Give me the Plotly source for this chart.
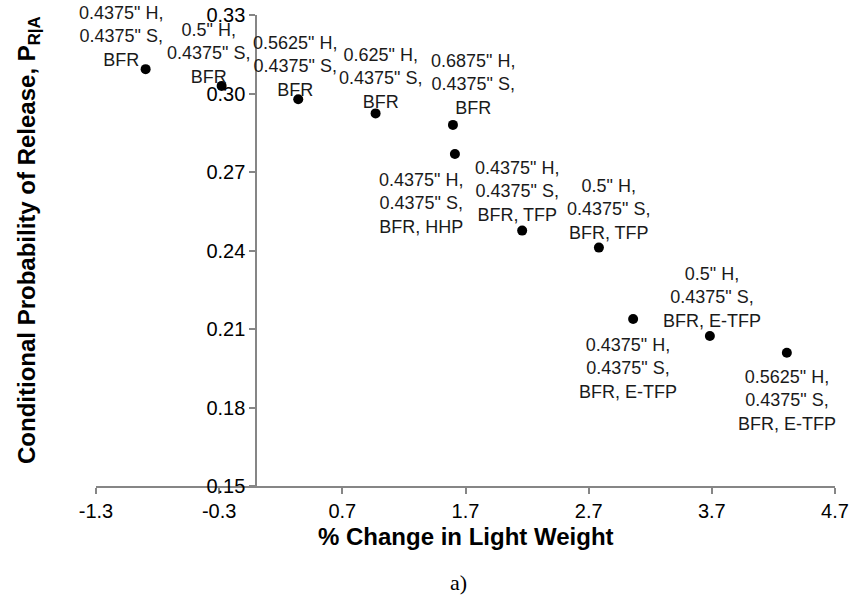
import plotly.graph_objects as go

# ---- data ----
pct_change = [-0.897, -0.280, 0.342, 0.970, 1.598, 1.614, 2.160, 2.783, 3.061, 3.684, 4.309]
p_release = [0.3093, 0.3029, 0.2978, 0.2924, 0.2880, 0.2769, 0.2476, 0.2411, 0.2138, 0.2073, 0.2009]
labels = [
    '0.4375" H,<br>0.4375" S,<br>BFR',
    '0.5" H,<br>0.4375" S,<br>BFR',
    '0.5625" H,<br>0.4375" S,<br>BFR',
    '0.625" H,<br>0.4375" S,<br>BFR',
    '0.6875" H,<br>0.4375" S,<br>BFR',
    '0.4375" H,<br>0.4375" S,<br>BFR, HHP',
    '0.4375" H,<br>0.4375" S,<br>BFR, TFP',
    '0.5" H,<br>0.4375" S,<br>BFR, TFP',
    '0.4375" H,<br>0.4375" S,<br>BFR, E-TFP',
    '0.5" H,<br>0.4375" S,<br>BFR, E-TFP',
    '0.5625" H,<br>0.4375" S,<br>BFR, E-TFP',
]
x_tick_vals = [-1.3, -0.3, 0.7, 1.7, 2.7, 3.7, 4.7]
x_tick_text = ["-1.3", "-0.3", "0.7", "1.7", "2.7", "3.7", "4.7"]
y_tick_vals = [0.15, 0.18, 0.21, 0.24, 0.27, 0.30, 0.33]
y_tick_text = ["0.15", "0.18", "0.21", "0.24", "0.27", "0.30", "0.33"]
x_range = [-1.3, 4.7]
y_range = [0.15, 0.33]
x_title = "% Change in Light Weight"
y_title = "Conditional Probability of Release, P<sub>R|A</sub>"
caption = "a)"

# ---- layout / style (label offsets in pixels: right, down) ----
label_offsets = [(-25, -33), (-13, -32), (-3, -33), (5, -35), (20, -40), (-34, 50),
                 (-5, -39), (10, -38), (-5, 49), (2, -39), (0, 48)]

W, H = 853, 616
L, R, T, B = 96, 18, 15, 130
axis_col = "#868686"
font_fam = "Arial, Liberation Sans, sans-serif"

fig = go.Figure()
fig.add_trace(go.Scatter(
    x=pct_change, y=p_release, mode="markers",
    marker=dict(color="black", size=10),
    showlegend=False, hoverinfo="x+y",
))

for xv, yv, txt, (dx, dy) in zip(pct_change, p_release, labels, label_offsets):
    fig.add_annotation(x=xv, y=yv, xref="x", yref="y", text=txt, showarrow=False,
                       xanchor="center", yanchor="middle", align="center",
                       xshift=dx, yshift=-dy,
                       font=dict(family=font_fam, size=18, color="#1a1a1a"))

yaxis_pos = (0 - x_range[0]) / (x_range[1] - x_range[0])

fig.update_layout(
    width=W, height=H,
    margin=dict(l=L, r=R, t=T, b=B, pad=0, autoexpand=False),
    paper_bgcolor="white", plot_bgcolor="white",
    font=dict(family=font_fam, size=20, color="black"),
    xaxis=dict(range=x_range, tickmode="array", tickvals=x_tick_vals, ticktext=x_tick_text,
               showline=True, linecolor=axis_col, linewidth=1.5,
               ticks="outside", ticklen=6, tickcolor=axis_col, tickwidth=1.5,
               showgrid=False, zeroline=False, automargin=False,
               tickfont=dict(size=20, color="black")),
    yaxis=dict(range=y_range, tickmode="array", tickvals=y_tick_vals, ticktext=y_tick_text,
               anchor="free", position=yaxis_pos,
               showline=True, linecolor=axis_col, linewidth=1.5,
               ticks="outside", ticklen=6, tickcolor=axis_col, tickwidth=1.5,
               showgrid=False, zeroline=False, automargin=False,
               tickfont=dict(size=20, color="black")),
)

pw = W - L - R
ph = H - T - B
fig.add_annotation(text=y_title, xref="paper", yref="paper",
                   x=(28 - L) / pw, y=(H - B - 240) / ph, textangle=-90,
                   showarrow=False, xanchor="center", yanchor="middle",
                   font=dict(family=font_fam, size=24, color="black", weight="bold"))
fig.add_annotation(text="<b>" + x_title + "</b>", xref="paper", yref="paper",
                   x=0.5, y=(H - B - 536) / ph, showarrow=False,
                   xanchor="center", yanchor="middle",
                   font=dict(family=font_fam, size=24, color="black"))
fig.add_annotation(text=caption, xref="paper", yref="paper",
                   x=(458 - L) / pw, y=(H - B - 582) / ph, showarrow=False,
                   xanchor="center", yanchor="middle",
                   font=dict(family="Times New Roman, Liberation Serif, serif", size=22, color="black"))

fig.write_html("out.html")
